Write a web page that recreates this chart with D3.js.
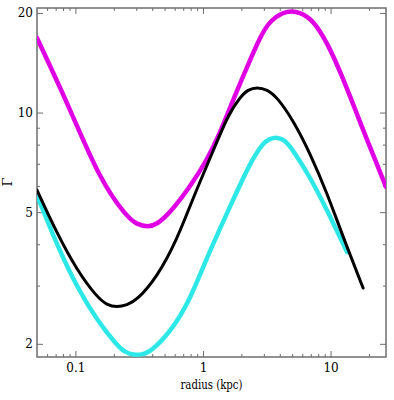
<!DOCTYPE html>
<head>
  <style>
    body { margin: 0; background: #fff; }
    .axis line { stroke: #6e6e6e; stroke-width: 1; }
    .axis path { display: none; }
  </style>
</head>
<body>
  <script src="https://cdn.jsdelivr.net/npm/d3@7"></script>
  <script>
    // values (radius in kpc, Gamma)
    var magentaR = [0.05, 0.0905, 0.1557, 0.2534, 0.3037, 0.370, 0.4357, 0.551, 0.791, 1.075, 1.359, 1.719, 2.214, 2.80, 3.354, 4.56, 5.765, 7.293, 9.387, 12.53, 17.99, 27.2];
    var magentaG = [16.8, 10.3, 6.25, 4.83, 4.59, 4.51, 4.59, 4.97, 5.96, 7.19, 8.67, 10.91, 13.72, 16.91, 19.03, 20.4, 20.12, 19.03, 16.33, 12.72, 8.85, 5.96];

    var blackR = [0.05, 0.0716, 0.1027, 0.1474, 0.1766, 0.2116, 0.2534, 0.3037, 0.4357, 0.6252, 0.8655, 1.198, 1.542, 1.951, 2.255, 2.651, 3.177, 3.805, 5.08, 6.905, 9.387, 12.53, 17.99];
    var blackG = [5.83, 4.32, 3.34, 2.77, 2.62, 2.58, 2.62, 2.71, 3.18, 4.12, 5.71, 7.62, 9.69, 11.14, 11.74, 11.94, 11.74, 11.14, 9.49, 7.54, 5.71, 4.21, 2.95];

    var cyanR = [0.05, 0.0716, 0.1027, 0.1474, 0.2116, 0.2444, 0.2875, 0.3383, 0.384, 0.551, 0.7907, 1.075, 1.719, 2.337, 2.956, 3.293, 3.805, 4.397, 5.08, 6.905, 9.387, 13.47];
    var cyanG = [5.63, 3.98, 2.97, 2.36, 1.98, 1.884, 1.85, 1.858, 1.89, 2.16, 2.71, 3.66, 5.44, 7.04, 8.09, 8.32, 8.43, 8.26, 7.70, 6.39, 5.07, 3.79];

    var xMajor = [0.1, 1, 10];
    var xMinor = [0.06, 0.07, 0.08, 0.09, 0.2, 0.3, 0.4, 0.5, 0.6, 0.7, 0.8, 0.9, 2, 3, 4, 5, 6, 7, 8, 9, 20];
    var yMajor = [2, 5, 10, 20];
    var yMinor = [3, 4, 6, 7, 8, 9];

    var W = 394, H = 400;
    var x0 = 37, x1 = 386, y0 = 8, y1 = 357;   // plot box edges
    var serif = "DejaVu Serif";

    var x = d3.scaleLog().domain([0.05, 27.2]).range([x0, x1]);
    var y = d3.scaleLog().domain([1.825, 20.7]).range([y1, y0]);

    var svg = d3.select("body").append("svg")
      .attr("width", W)
      .attr("height", H);

    svg.append("defs").append("clipPath").attr("id", "plot")
      .append("rect")
      .attr("x", x0).attr("y", y0)
      .attr("width", x1 - x0).attr("height", y1 - y0);

    // ticks point inward on all four sides
    function ticks(axis, vals, size, pad) {
      return axis.tickValues(vals).tickSize(-size).tickPadding(pad || 0)
        .tickFormat(pad ? function(d) { return d; } : "");
    }

    svg.append("g").attr("class", "axis")
      .attr("transform", "translate(0," + y1 + ")")
      .call(ticks(d3.axisBottom(x), xMajor, 6, 6));
    svg.append("g").attr("class", "axis")
      .attr("transform", "translate(0," + y1 + ")")
      .call(ticks(d3.axisBottom(x), xMinor, 3));
    svg.append("g").attr("class", "axis")
      .attr("transform", "translate(0," + y0 + ")")
      .call(ticks(d3.axisTop(x), xMajor, 6));
    svg.append("g").attr("class", "axis")
      .attr("transform", "translate(0," + y0 + ")")
      .call(ticks(d3.axisTop(x), xMinor, 3));

    svg.append("g").attr("class", "axis")
      .attr("transform", "translate(" + x0 + ",0)")
      .call(ticks(d3.axisLeft(y), yMajor, 6, 4));
    svg.append("g").attr("class", "axis")
      .attr("transform", "translate(" + x0 + ",0)")
      .call(ticks(d3.axisLeft(y), yMinor, 3));
    svg.append("g").attr("class", "axis")
      .attr("transform", "translate(" + x1 + ",0)")
      .call(ticks(d3.axisRight(y), yMajor, 6));
    svg.append("g").attr("class", "axis")
      .attr("transform", "translate(" + x1 + ",0)")
      .call(ticks(d3.axisRight(y), yMinor, 3));

    svg.selectAll(".axis text")
      .attr("font-family", serif)
      .attr("font-size", 12)
      .attr("fill", "#000");

    // frame
    svg.append("rect")
      .attr("x", x0).attr("y", y0)
      .attr("width", x1 - x0).attr("height", y1 - y0)
      .attr("fill", "none")
      .attr("stroke", "#6e6e6e")
      .attr("stroke-width", 1.5);

    var line = d3.line()
      .x(function(d) { return x(d[0]); })
      .y(function(d) { return y(d[1]); })
      .curve(d3.curveBasis);

    var series = [
      { r: magentaR, g: magentaG, color: "#e000e4", w: 4.5 },
      { r: cyanR, g: cyanG, color: "#2ee8e8", w: 4.5 },
      { r: blackR, g: blackG, color: "#000000", w: 3 }
    ];

    svg.append("g").attr("clip-path", "url(#plot)")
      .selectAll("path")
      .data(series)
      .enter()
      .append("path")
      .attr("d", function(s) { return line(d3.zip(s.r, s.g)); })
      .attr("fill", "none")
      .attr("stroke", function(s) { return s.color; })
      .attr("stroke-width", function(s) { return s.w; })
      .attr("stroke-linecap", "round");

    // axis titles
    svg.append("text")
      .attr("x", (x0 + x1) / 2)
      .attr("y", 389)
      .attr("text-anchor", "middle")
      .attr("font-family", serif)
      .attr("font-size", 12)
      .attr("textLength", 62)
      .attr("lengthAdjust", "spacingAndGlyphs")
      .text("radius (kpc)");

    svg.append("text")
      .attr("transform", "translate(12,182) rotate(-90)")
      .attr("text-anchor", "middle")
      .attr("font-family", serif)
      .attr("font-size", 13)
      .text("Γ");
  </script>
</body>
